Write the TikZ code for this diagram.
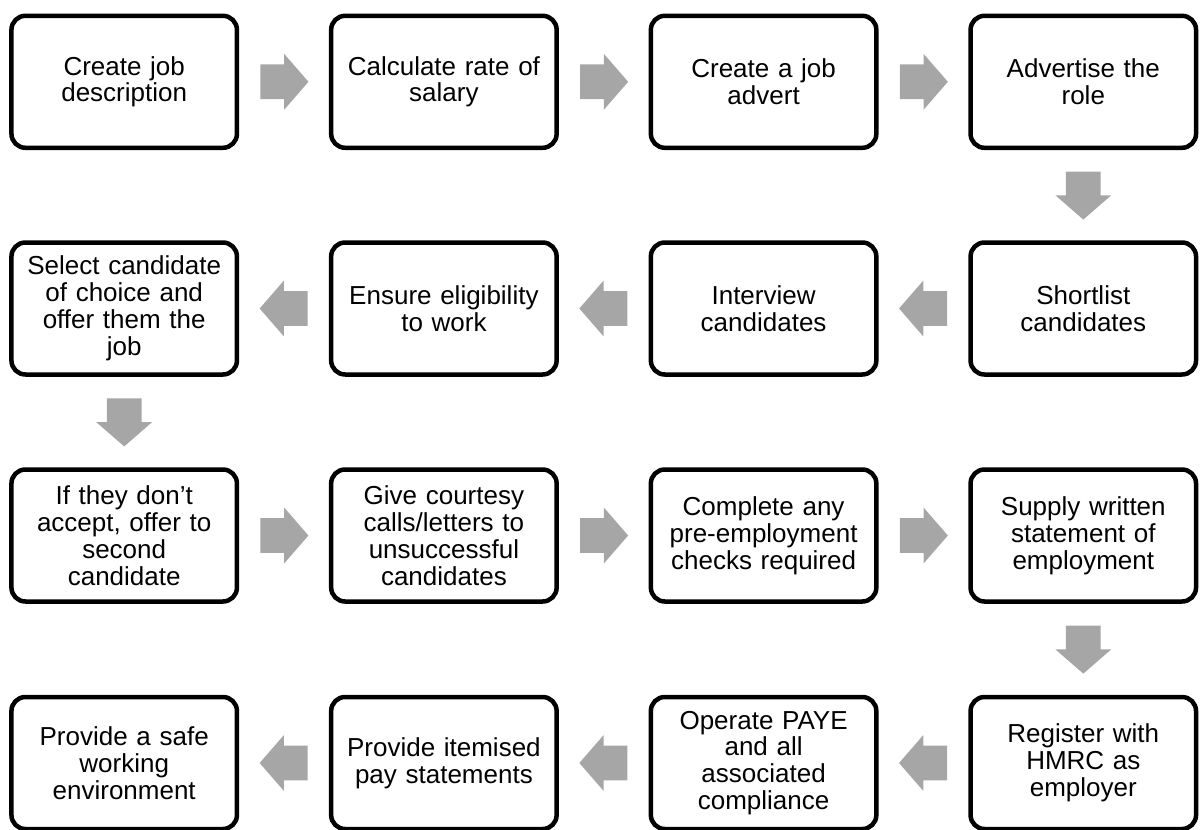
\documentclass[tikz,border=0pt]{standalone}
\usepackage{fontspec}
\setmainfont{Liberation Sans}
\usetikzlibrary{shapes.arrows}
\usetikzlibrary{calc}
\tikzset{stepbox/.style = {draw, line width = 2.25pt, rounded corners = 7pt, minimum width = 112.75pt, minimum height = 66pt, inner sep = 0pt, text width = 110pt, align = center, font = \fontsize{13}{13.45}\selectfont}}
\tikzset{flowarrow/.style = {single arrow, draw = none, fill = gray!70, anchor = tail, minimum height = 24pt, minimum width = 27.5pt, inner xsep = 0pt, inner ysep = 8.5pt, single arrow head extend = 5.25pt, single arrow tip angle = 98}}

\begin{document}
\begin{tikzpicture}[x = 1pt, y = 1pt]
		\useasboundingbox (0, 0) rectangle (600, -415);
		\node [stepbox] (create) at (62.1, -40.9) {Create job\\description};
		\node [stepbox] (salary) at (221.95, -40.9) {Calculate rate of\\salary};
		\node [stepbox] (advert) at (381.8, -40.9) {Create a job\\advert};
		\node [stepbox] (advertise) at (541.65, -40.9) {Advertise the\\role};
		\node [stepbox] (shortlist) at (541.65, -154.25) {Shortlist\\candidates};
		\node [stepbox] (interview) at (381.8, -154.25) {Interview\\candidates};
		\node [stepbox] (eligible) at (221.95, -154.25) {Ensure eligibility\\to work};
		\node [stepbox] (select) at (62.1, -154.25) {Select candidate\\of choice and\\offer them the\\job};
		\node [stepbox] (second) at (62.1, -267.75) {If they don’t\\accept, offer to\\second\\candidate};
		\node [stepbox] (courtesy) at (221.95, -267.75) {Give courtesy\\calls/letters to\\unsuccessful\\candidates};
		\node [stepbox] (checks) at (381.8, -267.75) {Complete any\\pre-employment\\checks required};
		\node [stepbox] (statement) at (541.65, -267.75) {Supply written\\statement of\\employment};
		\node [stepbox] (hmrc) at (541.65, -381.5) {Register with\\HMRC as\\employer};
		\node [stepbox] (paye) at (381.8, -381.5) {Operate PAYE\\and all\\associated\\compliance};
		\node [stepbox] (payslip) at (221.95, -381.5) {Provide itemised\\pay statements};
		\node [stepbox] (safety) at (62.1, -381.5) {Provide a safe\\working\\environment};
		\node [flowarrow] (create-salary) at ($(create.east)!0.5!(salary.west) + (-12, 0)$) {};
		\node [flowarrow] (salary-advert) at ($(salary.east)!0.5!(advert.west) + (-12, 0)$) {};
		\node [flowarrow] (advert-advertise) at ($(advert.east)!0.5!(advertise.west) + (-12, 0)$) {};
		\node [flowarrow, rotate = -90] (advertise-shortlist) at ($(advertise.south)!0.5!(shortlist.north) + (0, 12)$) {};
		\node [flowarrow, rotate = 180] (shortlist-interview) at ($(shortlist.west)!0.5!(interview.east) + (12, 0)$) {};
		\node [flowarrow, rotate = 180] (interview-eligible) at ($(interview.west)!0.5!(eligible.east) + (12, 0)$) {};
		\node [flowarrow, rotate = 180] (eligible-select) at ($(eligible.west)!0.5!(select.east) + (12, 0)$) {};
		\node [flowarrow, rotate = -90] (select-second) at ($(select.south)!0.5!(second.north) + (0, 12)$) {};
		\node [flowarrow] (second-courtesy) at ($(second.east)!0.5!(courtesy.west) + (-12, 0)$) {};
		\node [flowarrow] (courtesy-checks) at ($(courtesy.east)!0.5!(checks.west) + (-12, 0)$) {};
		\node [flowarrow] (checks-statement) at ($(checks.east)!0.5!(statement.west) + (-12, 0)$) {};
		\node [flowarrow, rotate = -90] (statement-hmrc) at ($(statement.south)!0.5!(hmrc.north) + (0, 12)$) {};
		\node [flowarrow, rotate = 180] (hmrc-paye) at ($(hmrc.west)!0.5!(paye.east) + (12, 0)$) {};
		\node [flowarrow, rotate = 180] (paye-payslip) at ($(paye.west)!0.5!(payslip.east) + (12, 0)$) {};
		\node [flowarrow, rotate = 180] (payslip-safety) at ($(payslip.west)!0.5!(safety.east) + (12, 0)$) {};
	\end{tikzpicture}
\end{document}
